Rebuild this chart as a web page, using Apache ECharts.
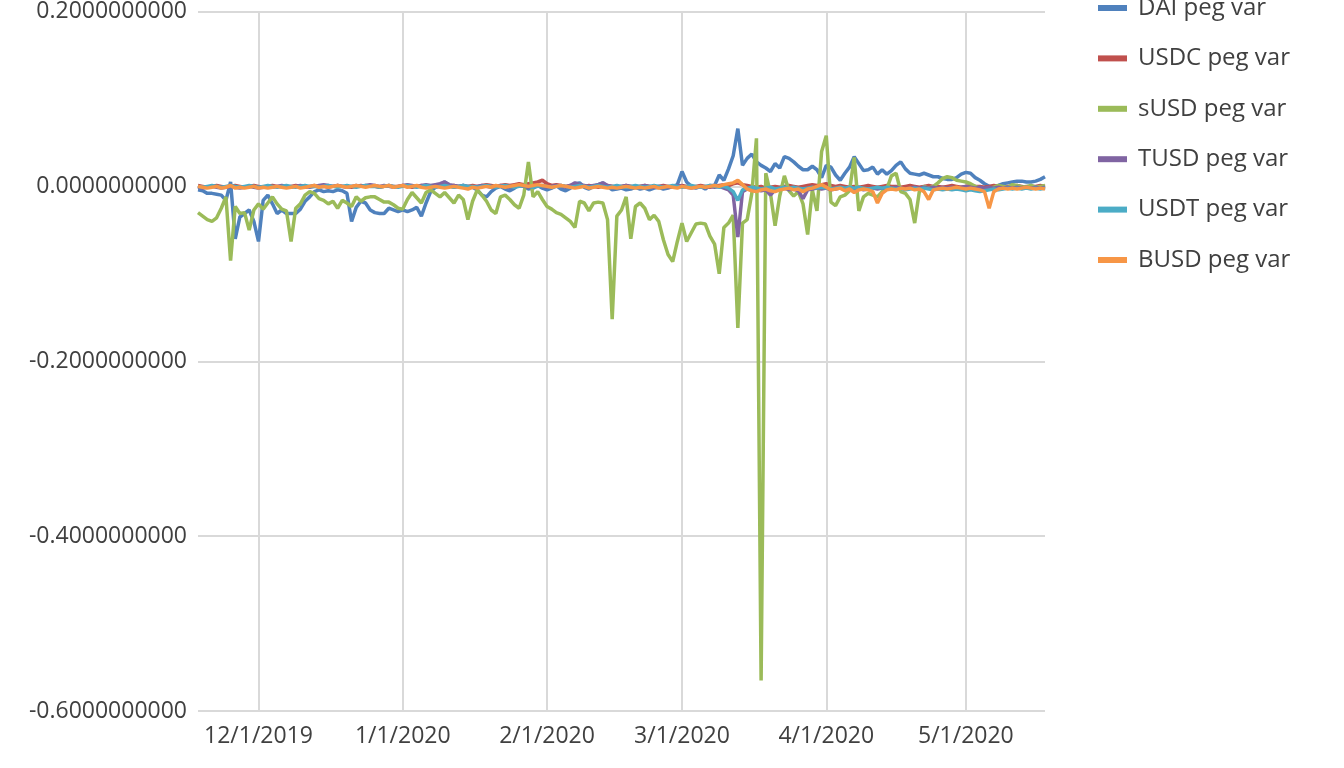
<!DOCTYPE html>
<html>
<head>
<meta charset="utf-8">
<script src="https://cdn.jsdelivr.net/npm/echarts@6/dist/echarts.min.js"></script>
<style>html,body{margin:0;padding:0;background:#fff}#c{width:1344px;height:768px}</style>
</head>
<body>
<div id="c"></div>
<script>
// Daily categories 11/18/2019 .. 5/18/2020
const startDate = [2019, 10, 18];
const dayCount = 183;
const categories = [];
for (let i = 0; i < dayCount; i++) {
  const d = new Date(Date.UTC(startDate[0], startDate[1], startDate[2] + i));
  categories.push((d.getUTCMonth() + 1) + '/' + d.getUTCDate() + '/' + d.getUTCFullYear());
}
const seriesNames = ['DAI peg var', 'USDC peg var', 'sUSD peg var', 'TUSD peg var', 'USDT peg var', 'BUSD peg var'];
const seriesColors = ['#4F81BD', '#C0504D', '#9BBB59', '#8064A2', '#4BACC6', '#F79646'];
const yTicks = [-0.6, -0.4, -0.2, 0, 0.2];

const daiVals = [
-0.004,-0.005,-0.008,-0.008,-0.009,-0.010,-0.016,0.005,-0.060,-0.035,
-0.031,-0.027,-0.040,-0.063,-0.016,-0.010,-0.020,-0.031,-0.027,-0.031,
-0.031,-0.031,-0.026,-0.017,-0.012,-0.006,-0.004,-0.006,-0.005,-0.006,
-0.004,-0.005,-0.008,-0.040,-0.024,-0.017,-0.019,-0.027,-0.030,-0.031,
-0.031,-0.025,-0.027,-0.029,-0.027,-0.029,-0.027,-0.024,-0.034,-0.019,
-0.006,-0.001,0.001,0.005,0.001,-0.001,0.000,0.001,-0.001,-0.001,
-0.004,-0.010,-0.012,-0.006,-0.002,0.000,-0.003,-0.005,-0.002,0.002,
0.000,-0.003,-0.002,0.001,-0.002,-0.004,-0.002,0.001,-0.003,-0.005,
-0.002,0.003,0.004,-0.001,-0.003,0.000,0.002,0.004,0.000,-0.004,
-0.003,-0.002,-0.004,-0.003,-0.001,-0.003,-0.002,-0.004,-0.002,-0.001,
-0.003,-0.002,0.000,0.002,0.017,0.005,0.000,-0.002,0.000,-0.003,
0.001,0.001,0.013,0.007,0.020,0.035,0.066,0.024,0.032,0.037,
0.028,0.024,0.021,0.017,0.026,0.021,0.034,0.032,0.028,0.023,
0.019,0.019,0.023,0.019,0.010,0.024,0.022,0.013,0.007,0.015,
0.022,0.034,0.026,0.018,0.019,0.022,0.014,0.019,0.014,0.018,
0.024,0.028,0.020,0.015,0.014,0.013,0.015,0.013,0.011,0.011,
0.009,0.008,0.008,0.010,0.014,0.016,0.015,0.010,0.007,0.003,
0.000,0.000,0.001,0.003,0.004,0.005,0.006,0.006,0.005,0.005,
0.006,0.008,0.011
];
const usdcVals = [
0.001,0.000,-0.001,0.000,0.001,0.000,-0.001,0.000,0.001,0.000,
-0.001,0.000,0.001,0.000,-0.001,0.000,0.001,0.000,0.000,-0.001,
0.000,0.001,0.000,-0.001,0.000,0.001,0.000,0.000,-0.001,0.000,
0.001,0.000,0.000,-0.001,0.000,0.001,0.000,0.001,0.000,-0.001,
0.000,0.001,0.000,0.000,0.001,0.000,-0.001,0.000,0.001,0.000,
0.000,0.001,0.002,0.001,0.000,0.001,0.000,-0.001,0.000,0.001,
0.000,0.001,0.002,0.001,0.000,0.001,0.002,0.001,0.002,0.003,
0.002,0.003,0.004,0.005,0.007,0.003,0.001,0.002,0.001,0.000,
0.001,0.002,0.001,0.000,0.001,0.000,-0.001,0.000,0.001,0.000,
-0.001,0.000,0.001,0.000,-0.001,0.000,0.001,0.000,-0.001,0.000,
0.001,0.000,-0.001,0.000,0.001,0.000,-0.001,0.000,0.001,0.000,
-0.001,0.000,0.001,0.002,0.001,0.003,0.004,0.002,0.001,0.000,
-0.001,0.000,-0.002,-0.001,0.000,-0.001,0.000,0.001,0.000,-0.001,
0.000,0.001,0.002,0.001,0.002,0.003,0.001,0.000,0.001,0.000,
-0.001,0.000,-0.001,0.000,0.001,0.000,-0.001,0.000,0.001,0.000,
0.000,-0.001,0.000,0.001,0.000,-0.001,0.000,0.001,0.000,0.000,
-0.001,0.000,0.001,0.000,-0.001,0.000,0.001,0.000,0.000,-0.001,
0.000,0.001,0.000,-0.001,0.000,0.000,0.001,0.000,-0.001,0.000,
0.000,0.001,0.000
];
const susdVals = [
-0.030,-0.034,-0.038,-0.040,-0.036,-0.025,-0.012,-0.085,-0.023,-0.031,
-0.030,-0.050,-0.027,-0.020,-0.026,-0.019,-0.012,-0.020,-0.026,-0.028,
-0.063,-0.025,-0.020,-0.010,-0.006,-0.008,-0.014,-0.016,-0.020,-0.017,
-0.025,-0.016,-0.019,-0.023,-0.012,-0.017,-0.013,-0.012,-0.012,-0.015,
-0.018,-0.018,-0.021,-0.025,-0.026,-0.015,-0.007,-0.013,-0.019,-0.007,
-0.004,-0.008,-0.012,-0.007,-0.013,-0.019,-0.010,-0.015,-0.038,-0.017,
-0.004,-0.010,-0.017,-0.027,-0.031,-0.012,-0.010,-0.015,-0.021,-0.025,
-0.010,0.028,-0.012,-0.006,-0.015,-0.023,-0.026,-0.030,-0.032,-0.036,
-0.040,-0.047,-0.017,-0.019,-0.028,-0.019,-0.018,-0.019,-0.038,-0.152,
-0.034,-0.027,-0.012,-0.060,-0.023,-0.019,-0.025,-0.038,-0.033,-0.040,
-0.061,-0.078,-0.086,-0.063,-0.042,-0.063,-0.053,-0.043,-0.042,-0.043,
-0.057,-0.066,-0.100,-0.047,-0.042,-0.033,-0.162,-0.042,-0.038,-0.008,
0.055,-0.565,0.015,-0.008,-0.045,-0.011,0.012,-0.005,-0.011,-0.006,
-0.020,-0.055,-0.004,-0.028,0.040,0.058,-0.018,-0.022,-0.012,-0.010,
-0.005,0.033,-0.028,-0.012,-0.008,-0.010,-0.012,-0.006,-0.003,0.012,
0.015,-0.006,-0.008,-0.015,-0.042,-0.006,0.000,-0.002,0.000,0.004,
0.009,0.011,0.010,0.007,0.006,0.005,0.003,0.000,-0.002,-0.004,
-0.002,-0.001,0.001,0.000,-0.001,0.002,0.001,-0.001,0.000,0.001,
-0.001,0.000,0.001
];
const tusdVals = [
-0.001,-0.002,-0.001,0.000,-0.001,-0.002,-0.001,0.000,-0.001,-0.002,
-0.001,0.000,-0.001,-0.002,-0.001,0.000,-0.001,0.000,0.001,0.000,
-0.001,0.000,0.001,0.000,-0.001,0.000,0.001,0.002,0.001,0.000,
0.001,0.000,-0.001,0.000,0.001,0.000,0.001,0.002,0.001,0.000,
0.001,0.000,-0.001,0.000,0.001,0.002,0.001,0.000,0.001,0.002,
0.001,0.002,0.003,0.005,0.002,0.001,0.000,0.001,0.000,-0.001,
0.000,0.001,0.000,-0.001,0.000,0.001,0.000,-0.001,0.000,0.001,
0.000,-0.001,0.000,0.001,0.000,-0.001,0.000,0.001,0.000,-0.001,
0.001,0.004,0.002,0.001,0.000,0.001,0.002,0.004,0.001,0.000,
-0.001,0.000,0.001,0.000,-0.001,0.000,0.001,0.000,-0.001,0.000,
0.000,-0.001,0.000,0.001,0.000,-0.001,-0.002,-0.001,0.000,-0.001,
0.000,-0.001,0.000,-0.002,-0.004,-0.010,-0.058,-0.006,-0.003,-0.004,
-0.003,-0.005,-0.004,-0.010,-0.004,-0.003,-0.002,-0.004,-0.003,-0.005,
-0.014,-0.004,-0.003,-0.002,-0.003,-0.002,-0.004,-0.003,-0.002,-0.003,
-0.002,-0.003,-0.002,-0.004,-0.003,-0.002,-0.003,-0.002,-0.003,-0.002,
-0.001,-0.002,-0.003,-0.002,-0.001,-0.002,-0.001,-0.002,-0.001,-0.002,
-0.001,-0.002,-0.001,-0.002,-0.001,0.000,-0.001,-0.002,-0.001,-0.002,
-0.001,-0.002,-0.001,-0.002,-0.001,-0.002,-0.001,-0.002,-0.001,-0.002,
-0.001,-0.002,-0.001
];
const usdtVals = [
0.000,-0.001,0.000,0.001,0.000,-0.001,0.000,0.001,0.000,-0.001,
0.000,0.001,0.000,-0.001,0.000,0.001,0.000,-0.001,0.000,0.001,
0.000,-0.001,0.000,0.001,0.000,0.000,-0.001,0.000,0.001,0.000,
-0.001,0.000,0.001,0.000,-0.001,0.000,0.001,0.000,0.000,-0.001,
0.000,0.001,0.000,-0.001,0.000,0.001,0.000,-0.001,0.000,0.001,
0.000,-0.001,0.000,0.001,0.000,-0.001,0.000,0.001,0.000,0.000,
-0.001,0.000,0.001,0.000,-0.001,0.000,0.001,0.000,-0.001,0.000,
0.001,0.000,-0.001,0.000,0.001,0.000,-0.001,0.000,0.001,0.000,
-0.001,0.000,0.001,0.000,-0.001,0.000,0.001,0.000,-0.001,0.000,
0.001,0.000,-0.001,0.000,0.001,0.000,-0.001,0.000,0.001,0.000,
-0.001,0.000,0.001,0.000,-0.001,0.000,0.001,0.000,-0.001,0.000,
0.001,0.000,-0.001,0.000,-0.002,-0.006,-0.016,-0.004,-0.002,-0.001,
-0.002,-0.003,-0.002,-0.001,-0.003,-0.002,-0.001,-0.002,-0.001,-0.002,
-0.003,-0.002,-0.001,-0.002,-0.001,-0.002,-0.003,-0.002,-0.001,-0.002,
-0.001,-0.002,-0.001,-0.002,-0.003,-0.002,-0.001,-0.002,-0.001,-0.002,
-0.003,-0.002,-0.004,-0.003,-0.002,-0.003,-0.002,-0.003,-0.004,-0.003,
-0.004,-0.003,-0.004,-0.003,-0.004,-0.005,-0.004,-0.005,-0.006,-0.005,
-0.004,-0.003,-0.004,-0.003,-0.002,-0.003,-0.002,-0.003,-0.002,-0.003,
-0.002,-0.003,-0.002
];
const busdVals = [
0.000,-0.001,-0.002,-0.001,0.000,-0.002,-0.001,0.001,-0.002,-0.001,
-0.002,-0.001,0.000,-0.002,-0.001,-0.002,-0.001,0.000,-0.001,-0.002,
-0.001,0.000,-0.002,-0.001,0.000,0.001,-0.001,0.000,-0.001,0.000,
0.001,0.000,-0.001,0.000,0.001,0.000,-0.001,0.000,0.001,0.000,
0.000,0.001,-0.001,0.000,0.001,-0.001,0.000,0.001,-0.001,-0.002,
-0.001,0.000,-0.001,-0.002,-0.001,0.000,-0.001,-0.002,-0.003,-0.001,
-0.002,-0.001,0.000,-0.001,0.001,0.000,-0.001,0.000,0.001,0.002,
0.001,0.000,0.001,0.002,0.001,0.000,-0.001,0.000,0.001,0.000,
-0.001,-0.002,-0.001,0.000,-0.002,-0.001,0.000,-0.001,-0.002,-0.001,
-0.002,-0.001,0.000,-0.001,-0.002,-0.001,-0.002,-0.001,0.000,-0.002,
-0.001,0.000,-0.001,-0.002,0.000,-0.001,-0.002,-0.001,0.000,-0.001,
0.000,0.001,0.000,0.002,0.003,0.004,0.007,0.002,-0.003,-0.005,
-0.006,-0.004,-0.003,-0.005,-0.006,-0.004,-0.003,-0.002,-0.004,-0.003,
-0.006,-0.003,-0.002,0.000,0.002,-0.001,-0.004,-0.003,-0.002,-0.005,
-0.003,-0.007,-0.004,-0.003,-0.004,-0.006,-0.019,-0.008,-0.004,-0.003,
-0.004,-0.002,-0.003,-0.002,-0.004,-0.003,-0.006,-0.015,-0.004,-0.003,
-0.002,-0.003,-0.002,-0.001,-0.002,-0.003,-0.002,-0.003,-0.004,-0.006,
-0.025,-0.006,-0.003,-0.002,-0.003,-0.002,-0.003,-0.002,-0.001,-0.002,
-0.003,-0.002,-0.003
];
const seriesValues = [daiVals, usdcVals, susdVals, tusdVals, usdtVals, busdVals];

const FONT = '"Open Sans", "Noto Sans", sans-serif';
const TEXT = '#404040';
const GRID = '#D9D9D9';
const isMonthStart = (i, v) => v.split('/')[1] === '1';

const chart = echarts.init(document.getElementById('c'), null, {renderer: 'canvas'});
chart.setOption({
  animation: false,
  backgroundColor: '#ffffff',
  grid: {left: 198, right: 299, top: 5, bottom: 57, containLabel: false},
  legend: {
    orient: 'vertical', left: 1093, top: -9,
    icon: 'rect', itemWidth: 29, itemHeight: 6, itemGap: 26.4,
    data: seriesNames,
    textStyle: {fontFamily: FONT, fontSize: 24, color: TEXT, padding: [0, 0, 0, 6]}
  },
  xAxis: {
    type: 'category', data: categories, boundaryGap: false,
    axisTick: {show: false},
    axisLine: {show: true, lineStyle: {color: GRID, width: 2}},
    axisLabel: {interval: isMonthStart,
      fontFamily: FONT, fontSize: 23, color: TEXT, margin: 14},
    splitLine: {show: true, interval: isMonthStart, lineStyle: {color: GRID, width: 2}}
  },
  yAxis: {
    type: 'value', min: yTicks[0], max: yTicks[yTicks.length - 1], interval: 0.2,
    axisLine: {show: false}, axisTick: {show: false},
    axisLabel: {formatter: v => v.toFixed(10), fontFamily: FONT, fontSize: 23, color: TEXT, margin: 11},
    splitLine: {show: true, lineStyle: {color: GRID, width: 2}}
  },
  series: seriesNames.map((n, k) => ({
    name: n, type: 'line', data: seriesValues[k], showSymbol: false, symbol: 'none',
    color: seriesColors[k],
    lineStyle: {width: 3.5, color: seriesColors[k]},
    emphasis: {disabled: true}
  }))
});
</script>
</body>
</html>
